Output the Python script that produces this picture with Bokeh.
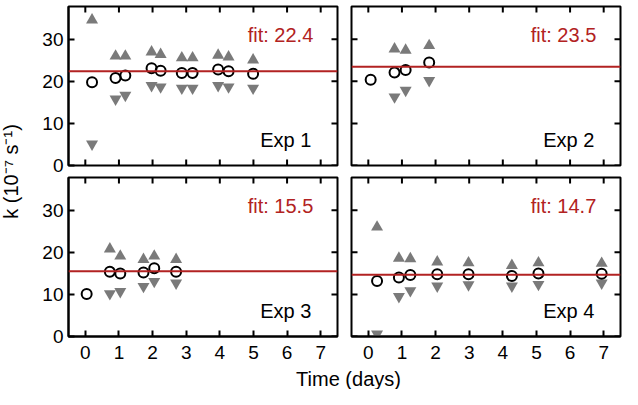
import math
from bokeh.plotting import figure
from bokeh.layouts import row, column
from bokeh.models import Range1d, LinearAxis, Span, Label, FixedTicker
from bokeh.embed import file_html
from bokeh.resources import INLINE

# ---------------- data ----------------
exp1_t = [0.2, 0.9, 1.19, 1.97, 2.24, 2.87, 3.19, 3.95, 4.26, 4.99]
exp1_k = [19.8, 20.8, 21.4, 23.1, 22.5, 22.0, 22.0, 22.8, 22.4, 21.8]
exp1_hi = [34.6, 26.0, 26.0, 27.0, 26.4, 25.6, 25.6, 26.2, 25.8, 25.1]
exp1_lo = [5.1, 15.8, 16.7, 19.0, 18.7, 18.4, 18.4, 19.0, 18.7, 18.4]

exp2_t = [0.07, 0.78, 1.11, 1.81]
exp2_k = [20.4, 22.1, 22.7, 24.5]
exp2_hi = [None, 27.7, 27.4, 28.5]
exp2_lo = [None, 16.3, 17.9, 20.2]

exp3_t = [0.04, 0.73, 1.04, 1.73, 2.05, 2.7]
exp3_k = [10.1, 15.4, 15.0, 15.2, 16.2, 15.4]
exp3_hi = [None, 20.8, 19.1, 18.3, 19.1, 18.3]
exp3_lo = [None, 10.2, 10.7, 11.9, 13.1, 12.7]

exp4_t = [0.26, 0.91, 1.25, 2.05, 2.98, 4.27, 5.06, 6.94]
exp4_k = [13.2, 14.0, 14.6, 14.8, 14.8, 14.4, 15.0, 14.9]
exp4_hi = [26.0, 18.6, 18.5, 17.7, 17.5, 16.9, 17.5, 17.4]
exp4_lo = [0.6, 9.5, 10.9, 12.0, 12.3, 12.0, 12.4, 12.7]

fits = [22.4, 23.5, 15.5, 14.7]
exp_names = ["Exp 1", "Exp 2", "Exp 3", "Exp 4"]
x_ticks = [0, 1, 2, 3, 4, 5, 6, 7]
y_ticks = [0, 10, 20, 30]

X0, X1 = -0.5, 7.5
Y0, Y1 = 0.0, 37.8

FONT = "Liberation Sans"
RED = "#B22222"
GREY = "#7a7a7a"
TICK_PX = 6
FRAME_W = 269
FRAME_H = 159


def style_axis(ax, ticks):
    ax.ticker = FixedTicker(ticks=ticks)
    ax.axis_line_width = 2
    ax.axis_line_color = "black"
    ax.major_tick_in = TICK_PX
    ax.major_tick_out = 0
    ax.major_tick_line_width = 2
    ax.major_tick_line_color = "black"
    ax.minor_tick_line_color = None
    ax.major_label_text_font = FONT
    ax.major_label_text_color = "black"
    ax.major_label_text_font_size = "19px"


def panel(t, k, hi, lo, fit, name, w, h, borders, show_x, show_y):
    left, right, top, bottom = borders
    p = figure(width=w, height=h, output_backend="svg", toolbar_location=None,
               x_range=Range1d(X0, X1), y_range=Range1d(Y0, Y1),
               min_border_left=left, min_border_right=right,
               min_border_top=top, min_border_bottom=bottom,
               x_axis_location=None, y_axis_location=None)
    p.grid.visible = False
    p.outline_line_color = "black"
    p.outline_line_width = 2
    p.background_fill_color = "white"
    p.border_fill_color = "white"

    lx = TICK_PX * (X1 - X0) / FRAME_W
    ly = TICK_PX * (Y1 - Y0) / FRAME_H
    nx, ny = len(x_ticks), len(y_ticks)
    # mirrored (label-less) inward ticks
    p.segment(x0=x_ticks, y0=[Y1] * nx, x1=x_ticks, y1=[Y1 - ly] * nx,
              line_color="black", line_width=2)
    p.segment(x0=[X1] * ny, y0=y_ticks, x1=[X1 - lx] * ny, y1=y_ticks,
              line_color="black", line_width=2)
    if show_x:
        xb = LinearAxis()
        style_axis(xb, x_ticks)
        xb.major_label_standoff = 9
        p.add_layout(xb, "below")
    else:
        p.segment(x0=x_ticks, y0=[Y0] * nx, x1=x_ticks, y1=[Y0 + ly] * nx,
                  line_color="black", line_width=2)
    if show_y:
        yl = LinearAxis()
        style_axis(yl, y_ticks)
        yl.major_label_standoff = 5
        p.add_layout(yl, "left")
    else:
        p.segment(x0=[X0] * ny, y0=y_ticks, x1=[X0 + lx] * ny, y1=y_ticks,
                  line_color="black", line_width=2)

    p.add_layout(Span(location=fit, dimension="width", line_color=RED, line_width=2))

    th = [ti for ti, v in zip(t, hi) if v is not None]
    vh = [v for v in hi if v is not None]
    tl = [ti for ti, v in zip(t, lo) if v is not None]
    vl = [v for v in lo if v is not None]
    p.scatter(th, vh, marker="triangle", size=12, fill_color=GREY, line_color=None)
    p.scatter(tl, vl, marker="inverted_triangle", size=12, fill_color=GREY, line_color=None)
    p.scatter(t, k, marker="circle", size=10, fill_color=None, line_color="black", line_width=2)

    p.add_layout(Label(x=6.78, y=31.0, text="fit: %.1f" % fit, text_align="right",
                       text_baseline="middle", text_font=FONT, text_font_size="20px",
                       text_color=RED))
    p.add_layout(Label(x=6.72, y=6.0, text=name, text_align="right",
                       text_baseline="middle", text_font=FONT, text_font_size="20px",
                       text_color="black"))
    return p


# heights: top 6 + frame 159 + 11  |  1 + frame 159 + 30  |  x label 23  => 389
f1 = panel(exp1_t, exp1_k, exp1_hi, exp1_lo, fits[0], exp_names[0], 320, 176, (44, 7, 6, 11), False, True)
f2 = panel(exp2_t, exp2_k, exp2_hi, exp2_lo, fits[1], exp_names[1], 278, 176, (7, 2, 6, 11), False, False)
f3 = panel(exp3_t, exp3_k, exp3_hi, exp3_lo, fits[2], exp_names[2], 320, 190, (44, 7, 1, 30), True, True)
f4 = panel(exp4_t, exp4_k, exp4_hi, exp4_lo, fits[3], exp_names[3], 278, 190, (7, 2, 1, 30), True, False)


def blank(w, h):
    b = figure(width=w, height=h, output_backend="svg", toolbar_location=None,
               min_border=0, x_axis_location=None, y_axis_location=None,
               x_range=Range1d(0, 1), y_range=Range1d(0, 1))
    b.grid.visible = False
    b.outline_line_color = None
    b.background_fill_color = "white"
    b.border_fill_color = "white"
    return b


xlab = blank(598, 23)
xlab.add_layout(Label(x=324, y=11, x_units="screen", y_units="screen", text="Time (days)",
                      text_align="center", text_baseline="middle", text_font=FONT,
                      text_font_size="20px", text_color="black"))

ylab = blank(24, 389)
ylab.add_layout(Label(x=10, y=389 - 171, x_units="screen", y_units="screen",
                      text="k (10\u207b\u2077 s\u207b\u00b9)", angle=math.pi / 2,
                      text_align="center", text_baseline="middle", text_font=FONT,
                      text_font_size="20px", text_color="black"))

layout = row(ylab, column(row(f1, f2), row(f3, f4), xlab))

open("out.html", "w").write(file_html(layout, INLINE))
